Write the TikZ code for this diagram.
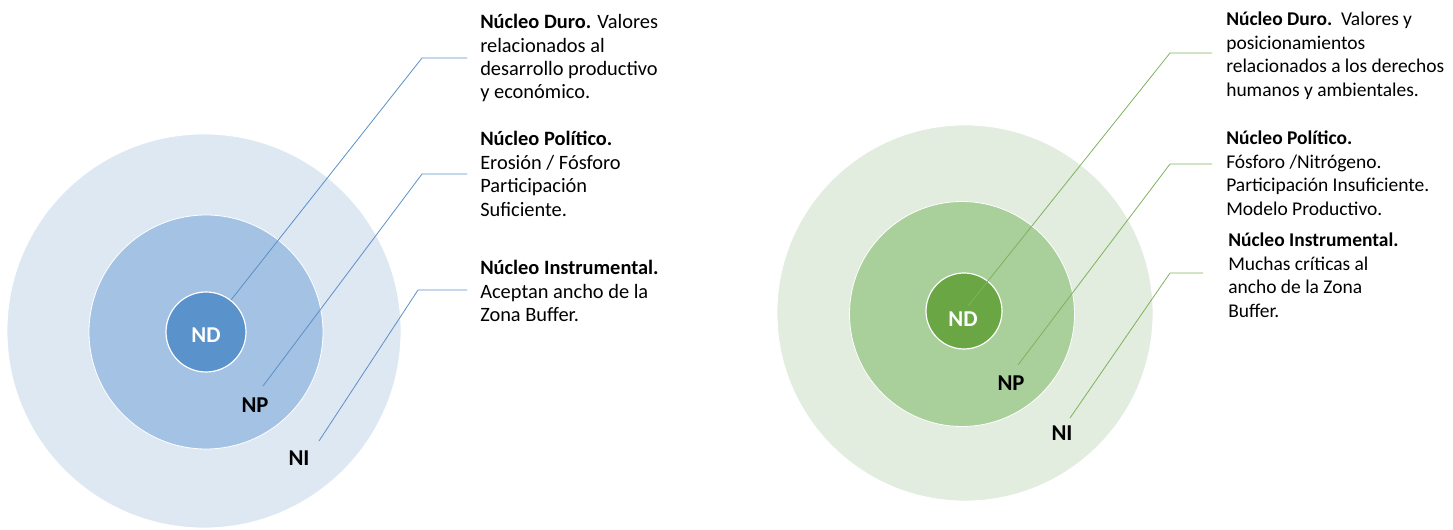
\documentclass[tikz,border=0pt]{standalone}
\usepackage{fontspec}
\setmainfont{Carlito}
\definecolor{bA}{HTML}{DEE8F3}
\definecolor{bB}{HTML}{A4C2E4}
\definecolor{bC}{HTML}{5A92CC}
\definecolor{bL}{HTML}{5B8FC7}
\definecolor{gA}{HTML}{E2ECDF}
\definecolor{gB}{HTML}{A9D09A}
\definecolor{gC}{HTML}{6AA644}
\definecolor{gL}{HTML}{7DB35E}
\begin{document}
\begin{tikzpicture}[x=0.75pt,y=-0.75pt,
  ring/.style={circle,inner sep=0pt,draw=white,line width=0.6pt},
  core/.style={font=\fontsize{17}{20}\selectfont\bfseries},
  desc/.style={anchor=north west,inner sep=0pt,align=left,font=\fontsize{15.3}{17.6}\selectfont},
  descr/.style={desc,font=\fontsize{14.6}{17.6}\selectfont},
  leader/.style={line width=0.6pt}]
\useasboundingbox (0,0) rectangle (1453,530);
% left diagram
\node[ring,fill=bA,minimum size=295.5pt] (LI) at (204,331) {};
\node[ring,fill=bB,minimum size=175.5pt] (LP) at (206,332) {};
\node[ring,fill=bC,minimum size=60pt,line width=0.9pt] (LD) at (206,332) {};
\node[core,text=white] (LDt) at (206,335) {ND};
\node[core] (LPt) at (255,405) {NP};
\node[core] (LIt) at (299,458) {NI};
\node[desc] (T1) at (480,14) {\textbf{Núcleo Duro.} Valores\\relacionados al\\desarrollo productivo\\y económico.};
\node[desc] (T2) at (480,131) {\textbf{Núcleo Político.}\\Erosión / Fósforo\\Participación\\Suficiente.};
\node[desc] (T3) at (480,260) {\textbf{Núcleo Instrumental.}\\Aceptan ancho de la\\Zona Buffer.};
\coordinate (a1) at (231,300); \coordinate (a2) at (422,58); \coordinate (a3) at (467,58);
\coordinate (b1) at (263,386); \coordinate (b2) at (422,174); \coordinate (b3) at (467,174);
\coordinate (c1) at (319,441); \coordinate (c2) at (418,290); \coordinate (c3) at (467,290);
\draw[leader,bL] (a1) -- (a2) -- (a3);
\draw[leader,bL] (b1) -- (b2) -- (b3);
\draw[leader,bL] (c1) -- (c2) -- (c3);
% right diagram
\node[ring,fill=gA,minimum size=282pt] (RI) at (965,313) {};
\node[ring,fill=gB,minimum size=168.75pt] (RP) at (962,314) {};
\node[ring,fill=gC,minimum size=57pt,line width=0.9pt] (RD) at (964,311) {};
\node[core,text=white] (RDt) at (963,319) {ND};
\node[core] (RPt) at (1011,383) {NP};
\node[core] (RIt) at (1062,433) {NI};
\node[descr] (U1) at (1226,12) {\textbf{Núcleo Duro.}\ \ Valores y\\posicionamientos\\relacionados a los derechos\\humanos y ambientales.};
\node[descr] (U2) at (1226,131) {\textbf{Núcleo Político.}\\Fósforo /Nitrógeno.\\Participación Insuficiente.\\Modelo Productivo.};
\node[descr] (U3) at (1228,233) {\textbf{Núcleo Instrumental.}\\Muchas críticas al\\ancho de la Zona\\Buffer.};
\coordinate (d1) at (968,306); \coordinate (d2) at (1170,53); \coordinate (d3) at (1212,53);
\coordinate (e1) at (1018,365); \coordinate (e2) at (1170,164); \coordinate (e3) at (1212,164);
\coordinate (f1) at (1070,418); \coordinate (f2) at (1170,273); \coordinate (f3) at (1203,273);
\draw[leader,gL] (d1) -- (d2) -- (d3);
\draw[leader,gL] (e1) -- (e2) -- (e3);
\draw[leader,gL] (f1) -- (f2) -- (f3);
\end{tikzpicture}
\end{document}
